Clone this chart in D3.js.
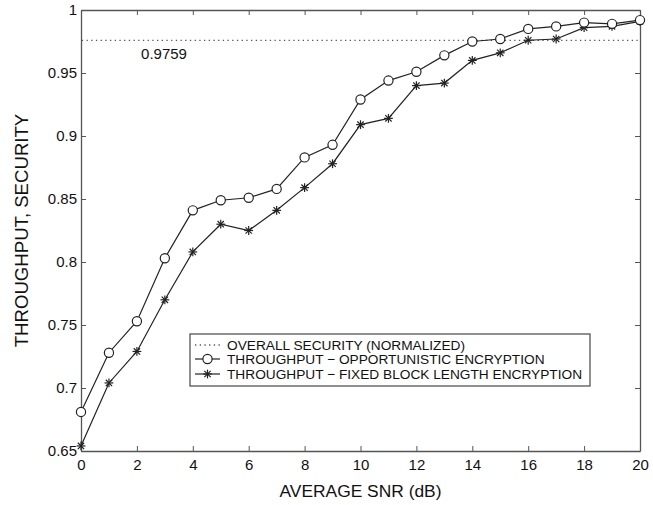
<!DOCTYPE html>
<html>
<head>
<meta charset="utf-8">
<script src="https://cdn.jsdelivr.net/npm/d3@7"></script>
<style>
  body { margin: 0; background: #fff; }
  text { font-family: "Liberation Sans", Arial, sans-serif; fill: #111; }
</style>
</head>
<body>
<div id="myPlot"></div>
<script>
// average SNR (dB) on the x axis
var snr = [0, 1, 2, 3, 4, 5, 6, 7, 8, 9, 10, 11, 12, 13, 14, 15, 16, 17, 18, 19, 20];

// throughput with opportunistic encryption (circles)
var opportunistic = [0.681, 0.728, 0.753, 0.803, 0.841, 0.849, 0.851, 0.858, 0.883, 0.893,
  0.929, 0.944, 0.951, 0.964, 0.975, 0.977, 0.985, 0.987, 0.990, 0.989, 0.992];

// throughput with fixed block length encryption (stars)
var fixedBlock = [0.654, 0.704, 0.729, 0.770, 0.808, 0.830, 0.825, 0.841, 0.859, 0.878,
  0.909, 0.914, 0.940, 0.942, 0.960, 0.966, 0.976, 0.977, 0.986, 0.987, 0.991];

// overall security level (normalized)
var security = 0.9759;

var xTicks = [0, 2, 4, 6, 8, 10, 12, 14, 16, 18, 20];
var yTicks = [0.65, 0.7, 0.75, 0.8, 0.85, 0.9, 0.95, 1];

var legendLabels = [
  "OVERALL SECURITY (NORMALIZED)",
  "THROUGHPUT \u2212 OPPORTUNISTIC ENCRYPTION",
  "THROUGHPUT \u2212 FIXED BLOCK LENGTH ENCRYPTION"
];

//----------------------------------------------------------------------------------------------------
var margin = { top: 10, right: 13, bottom: 54, left: 81 },
  width = 653 - margin.left - margin.right,
  height = 505 - margin.top - margin.bottom;

var svg = d3.select("#myPlot")
  .append("svg")
  .attr("width", width + margin.left + margin.right)
  .attr("height", height + margin.top + margin.bottom)
  .append("g")
  .attr("transform", "translate(" + margin.left + "," + margin.top + ")");

var x = d3.scaleLinear().domain([0, 20]).range([0, width]);
var y = d3.scaleLinear().domain([0.65, 1]).range([height, 0]);

var axisColor = "#555";
var lineColor = "#222";

// axes with inward ticks on all four sides
function styleAxis(g) {
  g.select(".domain").attr("stroke", axisColor).attr("stroke-width", 1.3);
  g.selectAll(".tick line").attr("stroke", axisColor);
  g.selectAll(".tick text").style("font-size", "15px").attr("fill", "#111");
}

svg.append("g")
  .attr("transform", "translate(0," + height + ")")
  .call(d3.axisBottom(x).tickValues(xTicks).tickSizeInner(-5).tickSizeOuter(0).tickPadding(8))
  .call(styleAxis);

svg.append("g")
  .call(d3.axisTop(x).tickValues(xTicks).tickSizeInner(-5).tickSizeOuter(0).tickFormat(""))
  .call(styleAxis);

svg.append("g")
  .call(d3.axisLeft(y).tickValues(yTicks).tickSizeInner(-5).tickSizeOuter(0).tickPadding(4)
    .tickFormat(function (d) { return d3.format("")(+d.toFixed(2)); }))
  .call(styleAxis);

svg.append("g")
  .attr("transform", "translate(" + width + ",0)")
  .call(d3.axisRight(y).tickValues(yTicks).tickSizeInner(-5).tickSizeOuter(0).tickFormat(""))
  .call(styleAxis);

// axis titles
svg.append("text")
  .attr("x", width / 2)
  .attr("y", height + 46)
  .attr("text-anchor", "middle")
  .style("font-size", "17.4px")
  .text("AVERAGE SNR (dB)");

svg.append("text")
  .attr("transform", "translate(" + (-53) + "," + (height / 2) + ") rotate(-90)")
  .attr("text-anchor", "middle")
  .style("font-size", "18.6px")
  .text("THROUGHPUT, SECURITY");

// security level, dotted
svg.append("line")
  .attr("x1", x(0)).attr("x2", x(20))
  .attr("y1", y(security)).attr("y2", y(security))
  .attr("stroke", "#555")
  .attr("stroke-width", 1.3)
  .attr("stroke-dasharray", "1.3,3.4")
  .attr("stroke-dashoffset", -5.5);

svg.append("text")
  .attr("x", x(2.15))
  .attr("y", y(0.961))
  .style("font-size", "15px")
  .text(security.toFixed(4));

var line = d3.line()
  .x(function (d, i) { return x(snr[i]); })
  .y(function (d) { return y(d); });

// star marker: MATLAB style asterisk
function star(g, r) {
  g.append("line").attr("x1", -r).attr("x2", r).attr("y1", 0).attr("y2", 0);
  g.append("line").attr("x1", 0).attr("x2", 0).attr("y1", -r).attr("y2", r);
  var k = r * 0.72;
  g.append("line").attr("x1", -k).attr("x2", k).attr("y1", -k).attr("y2", k);
  g.append("line").attr("x1", -k).attr("x2", k).attr("y1", k).attr("y2", -k);
}

// fixed block length series
svg.append("path")
  .datum(fixedBlock)
  .attr("fill", "none")
  .attr("stroke", lineColor)
  .attr("stroke-width", 1.2)
  .attr("d", line);

svg.selectAll(".star")
  .data(fixedBlock)
  .enter()
  .append("g")
  .attr("class", "star")
  .attr("transform", function (d, i) { return "translate(" + x(snr[i]) + "," + y(d) + ")"; })
  .attr("stroke", lineColor)
  .attr("stroke-width", 1.2)
  .each(function () { star(d3.select(this), 4.4); });

// opportunistic series
svg.append("path")
  .datum(opportunistic)
  .attr("fill", "none")
  .attr("stroke", lineColor)
  .attr("stroke-width", 1.2)
  .attr("d", line);

svg.selectAll(".circ")
  .data(opportunistic)
  .enter()
  .append("circle")
  .attr("class", "circ")
  .attr("cx", function (d, i) { return x(snr[i]); })
  .attr("cy", function (d) { return y(d); })
  .attr("r", 4.6)
  .attr("fill", "#fff")
  .attr("stroke", lineColor)
  .attr("stroke-width", 1.2);

//----------------------------------------------------------------------------------------------------
// legend
var legend = svg.append("g")
  .attr("transform", "translate(" + (190 - margin.left) + "," + (334 - margin.top) + ")");

legend.append("rect")
  .attr("width", 400)
  .attr("height", 52)
  .attr("fill", "#fff")
  .attr("stroke", axisColor)
  .attr("stroke-width", 1.3);

var rowY = [11, 25, 40];

legend.append("line")
  .attr("x1", 5).attr("x2", 30)
  .attr("y1", rowY[0]).attr("y2", rowY[0])
  .attr("stroke", "#555")
  .attr("stroke-width", 1.3)
  .attr("stroke-dasharray", "1.3,3.4");

legend.append("line")
  .attr("x1", 5).attr("x2", 30)
  .attr("y1", rowY[1]).attr("y2", rowY[1])
  .attr("stroke", lineColor).attr("stroke-width", 1.2);
legend.append("circle")
  .attr("cx", 17.5).attr("cy", rowY[1]).attr("r", 4.6)
  .attr("fill", "#fff").attr("stroke", lineColor).attr("stroke-width", 1.2);

legend.append("line")
  .attr("x1", 5).attr("x2", 30)
  .attr("y1", rowY[2]).attr("y2", rowY[2])
  .attr("stroke", lineColor).attr("stroke-width", 1.2);
var ls = legend.append("g")
  .attr("transform", "translate(17.5," + rowY[2] + ")")
  .attr("stroke", lineColor).attr("stroke-width", 1.2);
star(ls, 4.4);

legend.selectAll(".lbl")
  .data(legendLabels)
  .enter()
  .append("text")
  .attr("class", "lbl")
  .attr("x", 37)
  .attr("y", function (d, i) { return rowY[i]; })
  .attr("dy", "0.36em")
  .style("font-size", "13.7px")
  .text(function (d) { return d; });
</script>
</body>
</html>
